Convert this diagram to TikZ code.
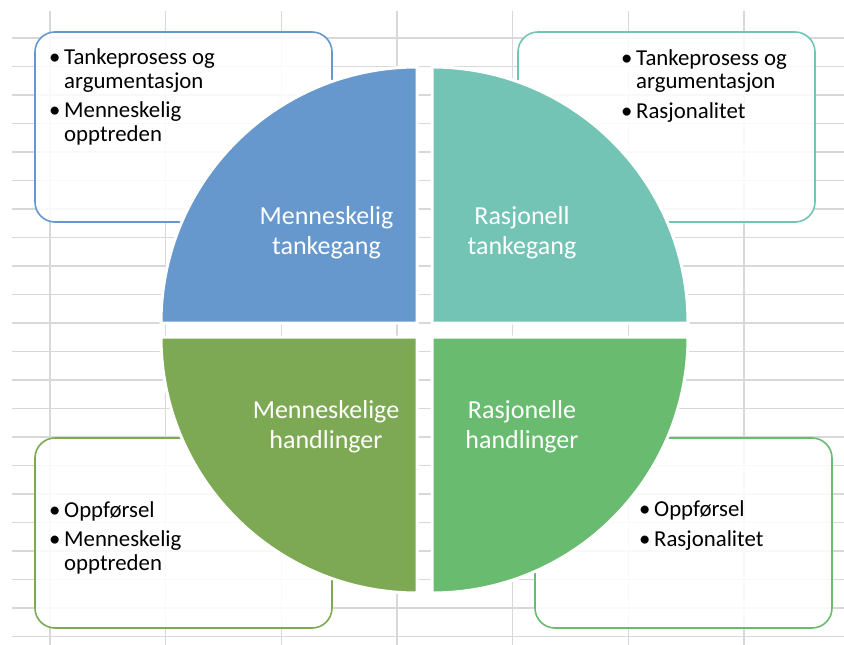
\documentclass[tikz,border=0pt]{standalone}
\usepackage{fontspec}
\setmainfont{Carlito}
\usetikzlibrary{positioning}
\definecolor{menblue}{RGB}{102,152,205}
\definecolor{rasteal}{RGB}{115,196,181}
\definecolor{menolive}{RGB}{126,169,84}
\definecolor{rasgreen}{RGB}{104,187,111}
\definecolor{gridgray}{RGB}{216,216,216}
\tikzstyle{gridline}=[draw=gridgray,line width=1.1pt]
\tikzstyle{infobox}=[draw,rounded corners=20pt,line width=1.6pt,fill=white,fill opacity=0.85,text opacity=1,minimum width=297pt,minimum height=190pt,inner sep=0pt]
\tikzstyle{quarter}=[draw=white,line width=3pt]
\tikzstyle{quartlabel}=[text=white,align=center,anchor=base,inner sep=0pt,font=\fontsize{26}{30}\selectfont]
\tikzstyle{bullets}=[align=left,anchor=base west,inner sep=0pt,font=\fontsize{22.8}{23.5}\selectfont]
\newcommand{\bul}{\makebox[15pt][l]{\textbullet}}
\newcommand{\ind}{\hspace*{15pt}}

\begin{document}
\begin{tikzpicture}[x=1pt,y=-1pt]
  \useasboundingbox (0,0) rectangle (844,645);

  % spreadsheet grid behind everything
  \foreach \i in {0,...,6}
    \draw[gridline] ({50+115.67*\i},11) -- ({50+115.67*\i},645);
  \foreach \j in {0,...,21}
    \draw[gridline] (12,{38+28.5*\j}) -- (844,{38+28.5*\j});

  % the four side boxes
  \node[infobox,draw=menblue]   (tlbox) at (183.5,127) {};
  \node[infobox,draw=rasteal]   (trbox) at (666.5,127) {};
  \node[infobox,draw=menolive]  (blbox) at (183.5,533) {};
  \node[infobox,draw=rasgreen]  (brbox) at (683.5,533) {};

  % quarter discs
  \path[quarter,fill=menblue]  (417,323) -- (161,323) arc[start angle=180,end angle=270,radius=256] -- cycle;
  \path[quarter,fill=rasteal]  (432,323) -- (432,67)  arc[start angle=270,end angle=360,radius=256] -- cycle;
  \path[quarter,fill=rasgreen] (432,337) -- (688,337) arc[start angle=0,end angle=90,radius=256] -- cycle;
  \path[quarter,fill=menolive] (417,337) -- (417,593) arc[start angle=90,end angle=180,radius=256] -- cycle;

  % labels sit on the baseline of their last line
  \node[quartlabel] (mtank) at (326.5,254) {Menneskelig\\tankegang};
  \node[quartlabel] (rtank) at (522,254)   {Rasjonell\\tankegang};
  \node[quartlabel] (mhand) at (326,448)   {Menneskelige\\handlinger};
  \node[quartlabel] (rhand) at (522,448)   {Rasjonelle\\handlinger};

  % bullet texts
  \node[bullets] (tltext) at (49,141)
    {\bul Tankeprosess og\\\ind argumentasjon\\[6pt]\bul Menneskelig\\\ind opptreden};
  \node[bullets] (trtext) at (621,118)
    {\bul Tankeprosess og\\\ind argumentasjon\\[6pt]\bul Rasjonalitet};
  \node[bullets] (bltext) at (49,570)
    {\bul Oppførsel\\[6pt]\bul Menneskelig\\\ind opptreden};
  \node[bullets] (brtext) at (639,546)
    {\bul Oppførsel\\[6pt]\bul Rasjonalitet};
\end{tikzpicture}
\end{document}
